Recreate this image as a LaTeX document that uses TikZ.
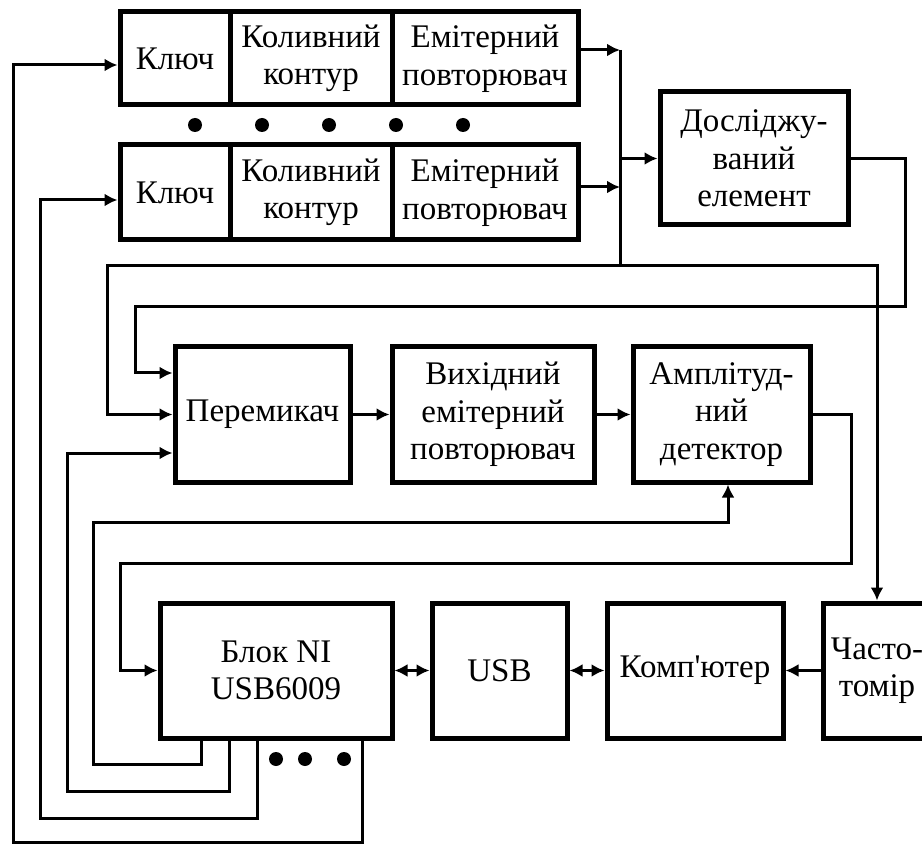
\documentclass[tikz,border=0pt]{standalone}
\usepackage{fontspec}
\setmainfont{Liberation Serif}[Ligatures=TeXOff]
\usetikzlibrary{arrows.meta}
\tikzset{>={Latex[length=13pt,width=13pt]}}
\tikzset{blok/.style={draw,line width=5pt,align=center,inner sep=0pt,
  font=\fontsize{33}{37.5}\selectfont}}

\begin{document}
\begin{tikzpicture}[x=1pt,y=-1pt,line width=3pt]
	\useasboundingbox (0,0) rectangle (922,845);

	\node[blok,minimum width=110pt,minimum height=93pt] (k1) at (175,58.5) {Ключ};
	\node[blok,minimum width=162pt,minimum height=93pt] (c1) at (311,58.5) {Коливний\\контур};
	\node[blok,minimum width=186pt,minimum height=93pt] (e1) at (485,58.5) {Емітерний\\повторювач};
	\node[blok,minimum width=110pt,minimum height=95pt] (k2) at (175,192.5) {Ключ};
	\node[blok,minimum width=162pt,minimum height=95pt] (c2) at (311,192.5) {Коливний\\контур};
	\node[blok,minimum width=186pt,minimum height=95pt] (e2) at (485,192.5) {Емітерний\\повторювач};

	\foreach \x in {195,262,329,396,463} {
	     \fill (\x,125) circle (7pt);
	}

	\node[blok,minimum width=188pt,minimum height=133pt] (dut) at (754,158.5) {Досліджу-\\ваний\\елемент};

	\node[blok,minimum width=175pt,minimum height=135pt] (sw) at (262.5,414.5) {Перемикач};
	\node[blok,minimum width=202pt,minimum height=135pt] (ef) at (493,414.5) {Вихідний\\емітерний\\повторювач};
	\node[blok,minimum width=177pt,minimum height=135pt] (ad) at (721.5,414.5) {Амплітуд-\\ний\\детектор};

	\node[blok,minimum width=232pt,minimum height=135pt] (ni) at (276,670.5) {Блок NI\\USB6009};
	\node[blok,minimum width=135pt,minimum height=135pt] (usb) at (499.5,670.5) {USB};
	\node[blok,minimum width=176pt,minimum height=135pt] (pc) at (695,670.5) {Комп'ютер};
	\node[blok,minimum width=108pt,minimum height=135pt] (fm) at (877,670.5) {Часто-\\томір};

	% koniec blokow

	\coordinate (bt) at (620,50);
	\coordinate (bb) at (620,266);
	\draw[->] ([yshift=8.5pt]e1.east) -- (bt);
	\draw[->] ([yshift=5.5pt]e2.east) -- ([yshift=5.5pt]e2.east -| bt);
	\draw (bt) -- (bb);
	\draw[->] (bb |- dut.west) -- (dut.west);
	\draw[->] (bb) -- ++(-513,0) |- (sw.west);
	\draw[->] (bb) -- ++(257,0) -- (fm.north);
	\draw[->] (dut.east) -- ++(55,0) -- ++(0,148.5) -- (135,307) |- ([yshift=41.5pt]sw.west);

	\draw[->] (sw.east) -- (ef.west);
	\draw[->] (ef.east) -- (ad.west);
	\draw[->] (ad.east) -- ++(39,0) -- ++(0,148.5) -- (120,563) |- (ni.west);

	\draw[<->] (ni.east) -- (usb.west);
	\draw[<->] (usb.east) -- (pc.west);
	\draw[->] (fm.west) -- (pc.east);

	\draw[->] ([xshift=-75pt]ni.south) |- (93,764) |- (728,522) -- ([xshift=6.5pt]ad.south);
	\draw[->] ([xshift=-47pt]ni.south) |- (67,791) |- ([yshift=-38.5pt]sw.west);
	\draw[->] ([xshift=-19pt]ni.south) |- (40,818) |- ([yshift=-7.5pt]k2.west);
	\draw[->] ([xshift=86pt]ni.south) |- (13,842) |- ([yshift=-6.5pt]k1.west);

	\foreach \x in {276,305,344} {
	     \fill (\x,759) circle (7pt);
	}
\end{tikzpicture}
\end{document}
